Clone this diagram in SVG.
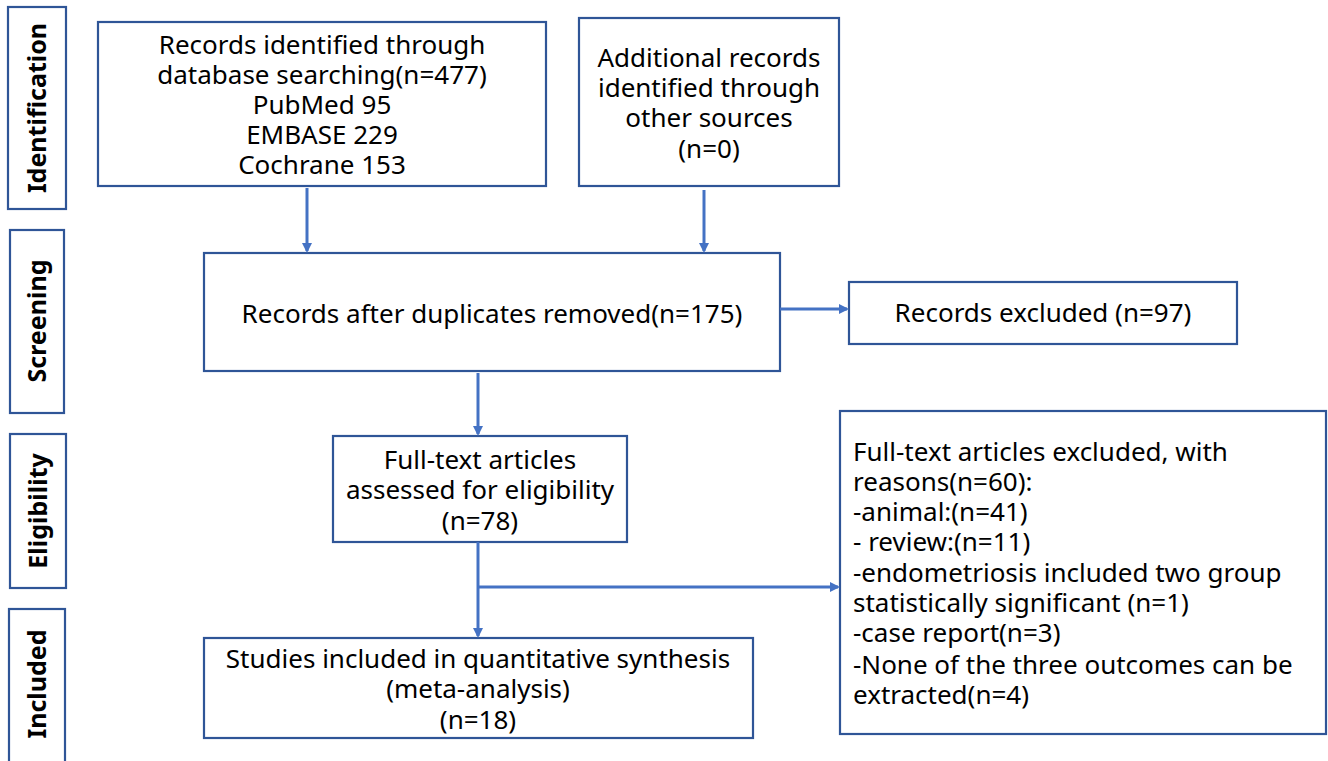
<svg xmlns="http://www.w3.org/2000/svg" width="1328" height="761" viewBox="0 0 1328 761">
<style>
.box{fill:#fff;stroke:#2F5597;stroke-width:2.2}
.t{font-family:"Noto Sans","Open Sans",sans-serif;font-size:26px;fill:#000;text-anchor:middle}
.tl{font-family:"Noto Sans","Open Sans",sans-serif;font-size:26px;fill:#000}
.lab{font-family:"Noto Sans","Open Sans",sans-serif;font-size:25px;font-weight:bold;fill:#000;text-anchor:middle}
.c{fill:none;stroke:#4472C4;stroke-width:3}
</style>
<defs>
<marker id="ah" markerWidth="10" markerHeight="10" refX="8" refY="5" orient="auto" markerUnits="userSpaceOnUse">
<path d="M0,0 L10,5 L0,10 z" fill="#4472C4"/>
</marker>
</defs>
<rect width="1328" height="761" fill="#fff"/>
<g id="lab-identification">
<rect class="box" x="8" y="7" width="58" height="202"/>
<text class="lab" transform="translate(46,108) rotate(-90)">Identification</text>
</g>
<g id="lab-screening">
<rect class="box" x="10" y="230" width="54" height="183"/>
<text class="lab" transform="translate(46,321) rotate(-90)">Screening</text>
</g>
<g id="lab-eligibility">
<rect class="box" x="10" y="434" width="56" height="154"/>
<text class="lab" transform="translate(47,511) rotate(-90)">Eligibility</text>
</g>
<g id="lab-included">
<rect class="box" x="9" y="609" width="56" height="170"/>
<text class="lab" transform="translate(46,684) rotate(-90)">Included</text>
</g>
<g id="n-database">
<rect class="box" x="98" y="22" width="448" height="164"/>
<text class="t" x="322" y="54">Records identified through</text>
<text class="t" x="322" y="84">database searching(n=477)</text>
<text class="t" x="322" y="114">PubMed 95</text>
<text class="t" x="322" y="144">EMBASE 229</text>
<text class="t" x="322" y="174">Cochrane 153</text>
</g>
<g id="n-other">
<rect class="box" x="579" y="18" width="260" height="168"/>
<text class="t" x="709" y="67">Additional records</text>
<text class="t" x="709" y="97">identified through</text>
<text class="t" x="709" y="127">other sources</text>
<text class="t" x="709" y="158">(n=0)</text>
</g>
<g id="n-dedup">
<rect class="box" x="204" y="253" width="576" height="118"/>
<text class="t" x="492" y="323">Records after duplicates removed(n=175)</text>
</g>
<g id="n-excluded">
<rect class="box" x="849" y="282" width="388" height="62"/>
<text class="t" x="1043" y="322">Records excluded (n=97)</text>
</g>
<g id="n-fulltext">
<rect class="box" x="333" y="436" width="294" height="106"/>
<text class="t" x="480" y="469">Full-text articles</text>
<text class="t" x="480" y="499">assessed for eligibility</text>
<text class="t" x="480" y="530">(n=78)</text>
</g>
<g id="n-ftexcluded">
<rect class="box" x="840" y="411" width="486" height="323"/>
<text class="tl" x="853" y="461">Full-text articles excluded, with</text>
<text class="tl" x="853" y="491">reasons(n=60):</text>
<text class="tl" x="853" y="521">-animal:(n=41)</text>
<text class="tl" x="853" y="551">- review:(n=11)</text>
<text class="tl" x="853" y="582">-endometriosis included two group</text>
<text class="tl" x="853" y="612">statistically significant (n=1)</text>
<text class="tl" x="853" y="642">-case report(n=3)</text>
<text class="tl" x="853" y="674">-None of the three outcomes can be</text>
<text class="tl" x="853" y="704">extracted(n=4)</text>
</g>
<g id="n-included">
<rect class="box" x="204" y="638" width="549" height="100"/>
<text class="t" x="478" y="668">Studies included in quantitative synthesis</text>
<text class="t" x="478" y="698">(meta-analysis)</text>
<text class="t" x="478" y="729">(n=18)</text>
</g>
<g id="connectors">
<line class="c" x1="307" y1="188" x2="307" y2="251" marker-end="url(#ah)"/>
<line class="c" x1="704" y1="190" x2="704" y2="251" marker-end="url(#ah)"/>
<line class="c" x1="780" y1="309" x2="847" y2="309" marker-end="url(#ah)"/>
<line class="c" x1="478" y1="373" x2="478" y2="434" marker-end="url(#ah)"/>
<line class="c" x1="478" y1="542" x2="478" y2="636" marker-end="url(#ah)"/>
<line class="c" x1="478" y1="587" x2="838" y2="587" marker-end="url(#ah)"/>
</g>
</svg>
